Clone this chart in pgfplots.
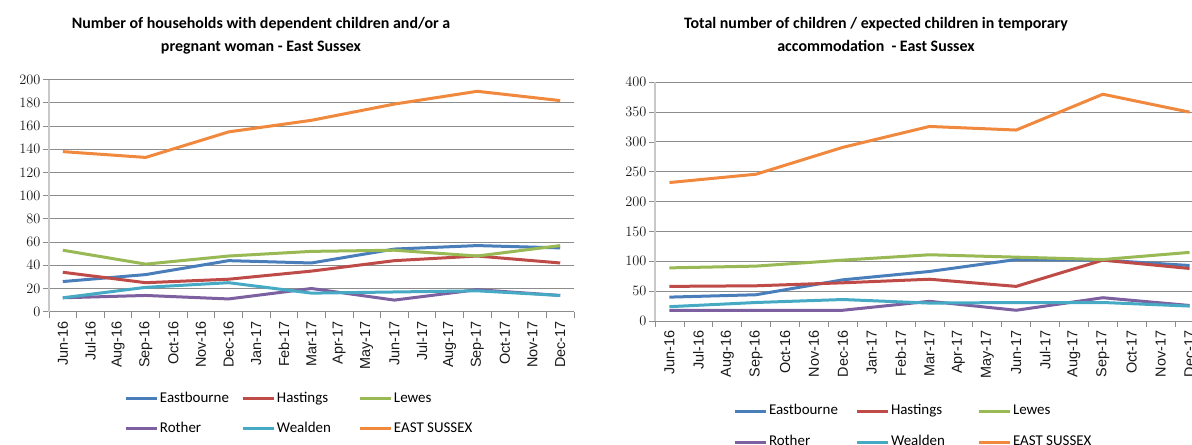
\documentclass[border=0pt]{standalone}
\usepackage{pgfplots}
\usepackage{pgfplotstable}
\pgfplotsset{compat=1.18}
\usepackage{fontspec}
\setmainfont{Carlito}
\newfontfamily\axisfont{Liberation Sans}

\definecolor{cEast}{HTML}{4A7EBB}
\definecolor{cHast}{HTML}{BE4B48}
\definecolor{cLewes}{HTML}{98B954}
\definecolor{cRoth}{HTML}{7D60A0}
\definecolor{cWeal}{HTML}{46AAC5}
\definecolor{cES}{HTML}{F0883E}
\definecolor{gridgray}{HTML}{8C8C8C}
\definecolor{yaxgray}{HTML}{C8C8C8}

% Households with dependent children and/or a pregnant woman (quarterly)
\pgfplotstableread{
idx east hast lewes roth weal es
0   26   34   53    12   12   138
3   32   25   41    14   21   133
6   44   28   48    11   25   155
9   42   35   52    20   16   165
12  54   44   53    10   17   179
15  57   48   48    19   18   190
18  55   42   57    14   14   182
}\households

% Children / expected children in temporary accommodation (quarterly)
\pgfplotstableread{
idx east hast lewes roth weal es
0   40   58   89    18   24   232
3   44   59   92    18   31   246
6   69   64   102   18   36   291
9   83   70   111   33   30   326
12  103  58   107   18   31   320
15  102  102  103   39   31   380
18  93   88   115   26   25   350
}\children

\pgfplotsset{
  esx/.style={
    scale only axis, anchor=south west,
    xmin=-0.5, xmax=18.5, ymin=0,
    axis x line*=bottom, axis y line*=left,
    axis line style={-},
    x axis line style={draw=gridgray, line width=1bp},
    y axis line style={draw=yaxgray, line width=2bp},
    xtick={0,...,18},
    xticklabels={Jun-16,Jul-16,Aug-16,Sep-16,Oct-16,Nov-16,Dec-16,Jan-17,Feb-17,Mar-17,Apr-17,May-17,Jun-17,Jul-17,Aug-17,Sep-17,Oct-17,Nov-17,Dec-17},
    minor xtick={-0.5,0.5,...,18.5},
    major x tick style={draw=none},
    minor x tick style={draw=gridgray, line width=0.8bp},
    y tick style={draw=gridgray, line width=0.8bp},
    tick align=outside,
    major tick length=6bp, minor tick length=6bp,
    ymajorgrids,
    major grid style={draw=gridgray, line width=1bp},
    ticklabel style={font=\axisfont\fontsize{14.5}{17}\selectfont, text=black!90},
    xticklabel style={rotate=90, anchor=east},
    yticklabel style={xshift=1bp},
    every axis plot/.append style={line width=3bp, line join=round, no markers},
    legend columns=3,
    legend cell align=left,
    legend image code/.code={\draw[##1] (0bp,0bp) -- (31bp,0bp);},
    legend style={draw=none, fill=none, anchor=north west,
      inner sep=0pt, outer sep=0pt, column sep=0pt,
      nodes={inner sep=1.5bp, text height=10.5bp, text depth=3bp},
      font=\fontsize{15}{17}\selectfont},
  }
}

\begin{document}
\begin{tikzpicture}[x=1bp,y=1bp]

\begin{axis}[esx,
  at={(49bp,133.3bp)}, width=525bp, height=232bp,
  ymax=200, ytick={0,20,...,200},
  legend style={at={(0.1438,-0.3405)}, row sep=13.5bp}]
  \addplot[cEast]  table[x=idx,y=east]  {\households};
  \addlegendentry{\makebox[80bp][l]{Eastbourne}}
  \addplot[cHast]  table[x=idx,y=hast]  {\households};
  \addlegendentry{\makebox[80bp][l]{Hastings}}
  \addplot[cLewes] table[x=idx,y=lewes] {\households};
  \addlegendentry{\makebox[80bp][l]{Lewes}}
  \addplot[cRoth]  table[x=idx,y=roth]  {\households};
  \addlegendentry{\makebox[80bp][l]{Rother}}
  \addplot[cWeal]  table[x=idx,y=weal]  {\households};
  \addlegendentry{\makebox[80bp][l]{Wealden}}
  \addplot[cES]    table[x=idx,y=es]    {\households};
  \addlegendentry{\makebox[80bp][l]{EAST SUSSEX}}
\end{axis}

\begin{axis}[esx,
  at={(655bp,124bp)}, width=549bp, height=238.7bp,
  ymax=400, ytick={0,50,...,400},
  legend style={at={(0.143,-0.3425)}, row sep=14.5bp}]
  \addplot[cEast]  table[x=idx,y=east]  {\children};
  \addlegendentry{\makebox[85bp][l]{Eastbourne}}
  \addplot[cHast]  table[x=idx,y=hast]  {\children};
  \addlegendentry{\makebox[85bp][l]{Hastings}}
  \addplot[cLewes] table[x=idx,y=lewes] {\children};
  \addlegendentry{\makebox[85bp][l]{Lewes}}
  \addplot[cRoth]  table[x=idx,y=roth]  {\children};
  \addlegendentry{\makebox[85bp][l]{Rother}}
  \addplot[cWeal]  table[x=idx,y=weal]  {\children};
  \addlegendentry{\makebox[85bp][l]{Wealden}}
  \addplot[cES]    table[x=idx,y=es]    {\children};
  \addlegendentry{\makebox[85bp][l]{EAST SUSSEX}}
\end{axis}

% chart titles
\begin{scope}[every node/.style={anchor=base, inner sep=0pt, font=\bfseries\fontsize{16}{19}\selectfont}]
  \node at (261bp,416bp) {Number of households with dependent children and/or a};
  \node at (261bp,393bp) {pregnant woman - East Sussex};
  \node at (876bp,416bp) {Total number of children / expected children in temporary};
  \node at (876bp,393bp) {accommodation\ \ - East Sussex};
\end{scope}

\pgfresetboundingbox
\path[use as bounding box] (0bp,0bp) rectangle (1192bp,445bp);
\end{tikzpicture}
\end{document}
